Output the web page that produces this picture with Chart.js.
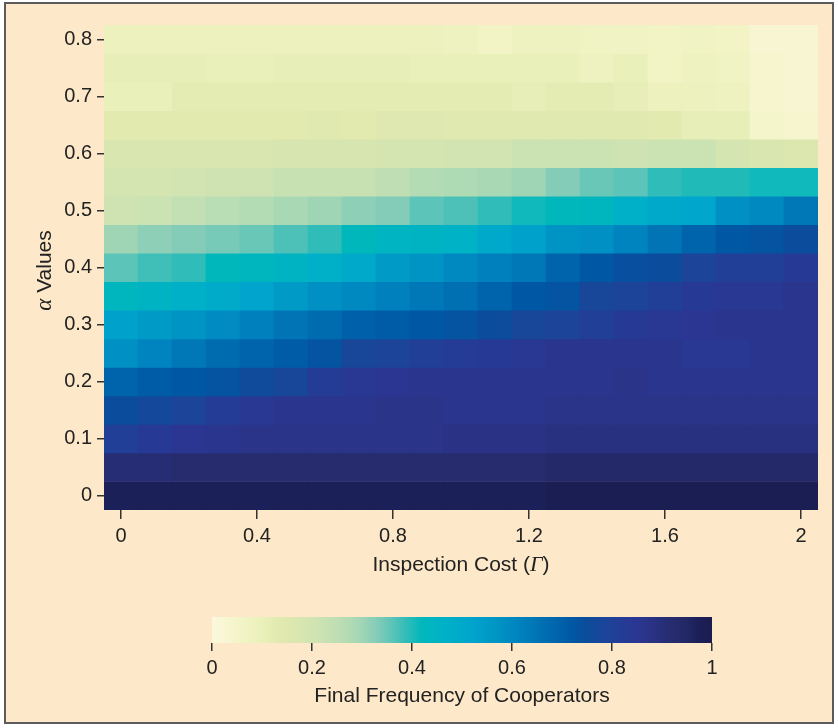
<!DOCTYPE html>
<html>
<head>
<meta charset="utf-8">
<title>Final Frequency of Cooperators</title>
<script src="https://cdn.jsdelivr.net/npm/chart.js@4.4.1/dist/chart.umd.min.js"></script>
<style>
  html, body { margin: 0; padding: 0; background: #fff; }
  #frame {
    position: absolute; left: 4px; top: 2px; width: 830px; height: 722px;
    box-sizing: border-box; border: 2px solid #5b5b5b; background: #fde9c9;
  }
  #heat { position: absolute; left: 0; top: 0; }
  #bar { position: absolute; left: 0; top: 600px; }
</style>
</head>
<body>
<div id="frame"></div>
<canvas id="heat" width="838" height="600"></canvas>
<canvas id="bar" width="838" height="128"></canvas>
<script>
// inspection cost (columns) and alpha (rows)
const gammaValues = [0, 0.1, 0.2, 0.3, 0.4, 0.5, 0.6, 0.7, 0.8, 0.9, 1.0,
                     1.1, 1.2, 1.3, 1.4, 1.5, 1.6, 1.7, 1.8, 1.9, 2.0];
const alphaValues = [0, 0.05, 0.1, 0.15, 0.2, 0.25, 0.3, 0.35, 0.4,
                     0.45, 0.5, 0.55, 0.6, 0.65, 0.7, 0.75, 0.8];

const xTicks = [0, 0.4, 0.8, 1.2, 1.6, 2];
const yTicks = [0, 0.1, 0.2, 0.3, 0.4, 0.5, 0.6, 0.7, 0.8];
const barTicks = [0, 0.2, 0.4, 0.6, 0.8, 1];

// final frequency of cooperators, one array per alpha value
const a000 = [0.97,0.97,0.97,0.97,0.97,0.97,0.97,0.97,0.97,0.97,0.97,0.97,0.97,0.99,0.99,0.99,0.99,0.99,0.99,0.99,0.99];
const a005 = [0.91,0.91,0.92,0.92,0.92,0.92,0.92,0.92,0.92,0.92,0.92,0.92,0.92,0.94,0.94,0.94,0.94,0.94,0.94,0.94,0.94];
const a010 = [0.81,0.83,0.85,0.86,0.87,0.87,0.87,0.87,0.87,0.87,0.88,0.88,0.88,0.89,0.89,0.89,0.89,0.89,0.89,0.89,0.89];
const a015 = [0.75,0.77,0.79,0.82,0.84,0.86,0.86,0.86,0.87,0.87,0.86,0.86,0.86,0.87,0.87,0.87,0.87,0.87,0.87,0.87,0.87];
const a020 = [0.69,0.71,0.72,0.73,0.76,0.78,0.82,0.84,0.85,0.86,0.86,0.86,0.86,0.86,0.86,0.87,0.86,0.86,0.86,0.86,0.86];
const a025 = [0.58,0.61,0.64,0.67,0.69,0.71,0.73,0.78,0.79,0.81,0.82,0.83,0.84,0.86,0.86,0.86,0.86,0.84,0.84,0.86,0.86];
const a030 = [0.53,0.55,0.57,0.59,0.62,0.65,0.67,0.70,0.71,0.72,0.73,0.75,0.78,0.79,0.81,0.83,0.84,0.85,0.86,0.86,0.86];
const a035 = [0.43,0.45,0.47,0.49,0.52,0.55,0.58,0.60,0.62,0.64,0.66,0.69,0.72,0.73,0.78,0.79,0.81,0.83,0.84,0.84,0.86];
const a040 = [0.36,0.38,0.39,0.42,0.43,0.45,0.47,0.50,0.55,0.57,0.60,0.62,0.64,0.69,0.72,0.74,0.75,0.79,0.81,0.81,0.83];
const a045 = [0.30,0.32,0.33,0.34,0.35,0.37,0.39,0.42,0.44,0.45,0.46,0.50,0.53,0.57,0.58,0.61,0.65,0.69,0.72,0.73,0.75];
const a050 = [0.21,0.22,0.24,0.26,0.27,0.29,0.30,0.32,0.33,0.36,0.37,0.39,0.41,0.42,0.43,0.47,0.50,0.51,0.58,0.60,0.64];
const a055 = [0.19,0.19,0.20,0.21,0.21,0.23,0.23,0.23,0.25,0.27,0.28,0.29,0.30,0.33,0.35,0.36,0.39,0.40,0.40,0.41,0.41];
const a060 = [0.17,0.17,0.17,0.17,0.17,0.18,0.18,0.18,0.19,0.19,0.20,0.20,0.22,0.22,0.22,0.21,0.22,0.22,0.19,0.17,0.16];
const a065 = [0.13,0.13,0.13,0.13,0.13,0.13,0.14,0.13,0.15,0.15,0.14,0.14,0.14,0.14,0.14,0.14,0.13,0.11,0.11,0.05,0.04];
const a070 = [0.10,0.10,0.12,0.12,0.12,0.12,0.12,0.12,0.12,0.12,0.12,0.12,0.11,0.12,0.12,0.11,0.09,0.09,0.08,0.04,0.03];
const a075 = [0.11,0.11,0.11,0.10,0.10,0.11,0.11,0.11,0.11,0.10,0.10,0.10,0.10,0.10,0.08,0.10,0.06,0.08,0.07,0.04,0.03];
const a080 = [0.09,0.09,0.09,0.09,0.09,0.09,0.09,0.09,0.09,0.09,0.08,0.06,0.08,0.08,0.07,0.07,0.06,0.07,0.06,0.03,0.03];

const freqRows = [a000, a005, a010, a015, a020, a025, a030, a035, a040,
                  a045, a050, a055, a060, a065, a070, a075, a080];

// yellow-green-blue colour ramp
const cmapStops = [
  [0.00, '#fbf8dc'], [0.03, '#f8f6d2'], [0.06, '#f2f4c6'], [0.10, '#eaf0ba'],
  [0.13, '#e2eab0'], [0.17, '#dae6b0'], [0.21, '#cfe3b2'], [0.25, '#bfdeb4'],
  [0.29, '#a8d8b4'], [0.33, '#84ccb8'], [0.36, '#5cc4b8'], [0.39, '#30bcb8'],
  [0.42, '#00b8bc'], [0.47, '#00b0c8'], [0.52, '#00a4cc'], [0.57, '#0094c4'],
  [0.61, '#0084c0'], [0.65, '#0074b4'], [0.69, '#0064ac'], [0.72, '#0058a4'],
  [0.75, '#0c4c9c'], [0.79, '#1c4498'], [0.82, '#243c96'], [0.85, '#2a3692'],
  [0.87, '#2a3488'], [0.89, '#283080'], [0.92, '#262c6e'], [0.95, '#222866'],
  [0.97, '#1c2058'], [1.00, '#1b1d50']
];

function hexToRgb(h) {
  const n = parseInt(h.slice(1), 16);
  return [(n >> 16) & 255, (n >> 8) & 255, n & 255];
}

function cmap(v) {
  v = Math.max(0, Math.min(1, v));
  for (let i = 1; i < cmapStops.length; i++) {
    const [p1, c1] = cmapStops[i];
    if (v <= p1) {
      const [p0, c0] = cmapStops[i - 1];
      const t = (v - p0) / (p1 - p0);
      const a = hexToRgb(c0), b = hexToRgb(c1);
      const m = a.map((x, k) => Math.round(x + (b[k] - x) * t));
      return `rgb(${m[0]},${m[1]},${m[2]})`;
    }
  }
  return cmapStops[cmapStops.length - 1][1];
}

const FONT = "'Liberation Sans', Arial, Helvetica, sans-serif";
const GREEK = "'Liberation Serif', 'DejaVu Serif', serif";
const INK = '#222';

const halfX = (gammaValues[1] - gammaValues[0]) / 2;
const halfY = (alphaValues[1] - alphaValues[0]) / 2;

// every cell is a floating bar spanning one alpha step
const cells = [];
freqRows.forEach((row, i) => {
  row.forEach((v, j) => {
    cells.push({ x: gammaValues[j], y: [alphaValues[i] - halfY, alphaValues[i] + halfY], v: v });
  });
});

// draws a line of text made of differently styled pieces, centred on (x, y)
function drawRich(ctx, parts, x, y, rotate) {
  ctx.save();
  ctx.translate(x, y);
  if (rotate) ctx.rotate(rotate);
  ctx.textBaseline = 'middle';
  ctx.textAlign = 'left';
  ctx.fillStyle = INK;
  let total = 0;
  const widths = parts.map(p => { ctx.font = p.font; const w = ctx.measureText(p.text).width; total += w; return w; });
  let cx = -total / 2;
  parts.forEach((p, i) => { ctx.font = p.font; ctx.fillText(p.text, cx, 0); cx += widths[i]; });
  ctx.restore();
}

const heatTitles = {
  id: 'heatTitles',
  afterDraw(chart) {
    const a = chart.chartArea, ctx = chart.ctx;
    drawRich(ctx, [
      { text: 'Inspection Cost (', font: `21px ${FONT}` },
      { text: 'Γ', font: `italic 22px ${GREEK}` },
      { text: ')', font: `21px ${FONT}` }
    ], (a.left + a.right) / 2, a.bottom + 55, 0);
    drawRich(ctx, [
      { text: 'α', font: `italic 23px ${GREEK}` },
      { text: ' Values', font: `21px ${FONT}` }
    ], 45, (a.top + a.bottom) / 2 + 3, -Math.PI / 2);
  }
};

const scaleText = { color: INK, font: { family: FONT, size: 20 } };

new Chart(document.getElementById('heat'), {
  type: 'bar',
  data: {
    datasets: [{
      data: cells,
      backgroundColor: cells.map(c => cmap(c.v)),
      borderWidth: 0,
      barPercentage: 1,
      categoryPercentage: 1
    }]
  },
  options: {
    responsive: false,
    animation: false,
    events: [],
    layout: { padding: { left: 0, top: 25, right: 20, bottom: 0 } },
    plugins: { legend: { display: false }, tooltip: { enabled: false } },
    scales: {
      x: {
        type: 'linear',
        min: gammaValues[0] - halfX,
        max: gammaValues[gammaValues.length - 1] + halfX,
        offset: false,
        afterBuildTicks: s => { s.ticks = xTicks.map(value => ({ value })); },
        afterFit: s => { s.height = 90; },
        ticks: Object.assign({ autoSkip: false, maxRotation: 0, padding: 5, callback: v => String(v) }, scaleText),
        grid: { drawOnChartArea: false, offset: false, tickLength: 9, color: '#333', lineWidth: 1.5 },
        border: { display: false }
      },
      y: {
        type: 'linear',
        min: alphaValues[0] - halfY,
        max: alphaValues[alphaValues.length - 1] + halfY,
        afterBuildTicks: s => { s.ticks = yTicks.map(value => ({ value })); },
        afterFit: s => { s.width = 104; },
        ticks: Object.assign({ autoSkip: false, padding: 5, callback: v => String(v) }, scaleText),
        grid: { drawOnChartArea: false, tickLength: 7, color: '#333', lineWidth: 1.5 },
        border: { display: false }
      }
    }
  },
  plugins: [heatTitles]
});

// colour bar: gradient over the chart area plus a 0..1 axis
const barFill = {
  id: 'barFill',
  beforeDatasetsDraw(chart) {
    const a = chart.chartArea, ctx = chart.ctx;
    const g = ctx.createLinearGradient(a.left, 0, a.right, 0);
    cmapStops.forEach(([p, c]) => g.addColorStop(p, c));
    ctx.save();
    ctx.fillStyle = g;
    ctx.fillRect(a.left, a.top, a.right - a.left, a.bottom - a.top);
    ctx.restore();
  },
  afterDraw(chart) {
    const a = chart.chartArea;
    drawRich(chart.ctx, [{ text: 'Final Frequency of Cooperators', font: `21px ${FONT}` }],
      (a.left + a.right) / 2, a.bottom + 53, 0);
  }
};

new Chart(document.getElementById('bar'), {
  type: 'bar',
  data: { datasets: [] },
  options: {
    responsive: false,
    animation: false,
    events: [],
    layout: { padding: { left: 212, top: 17, right: 126, bottom: 0 } },
    plugins: { legend: { display: false }, tooltip: { enabled: false } },
    scales: {
      x: {
        type: 'linear',
        min: 0,
        max: 1,
        offset: false,
        afterBuildTicks: s => { s.ticks = barTicks.map(value => ({ value })); },
        afterFit: s => { s.height = 85; },
        ticks: Object.assign({ autoSkip: false, maxRotation: 0, padding: 5, callback: v => String(v) }, scaleText),
        grid: { drawOnChartArea: false, offset: false, tickLength: 8, color: '#333', lineWidth: 1.5 },
        border: { display: false }
      },
      y: { display: false, min: 0, max: 1 }
    }
  },
  plugins: [barFill]
});
</script>
</body>
</html>
